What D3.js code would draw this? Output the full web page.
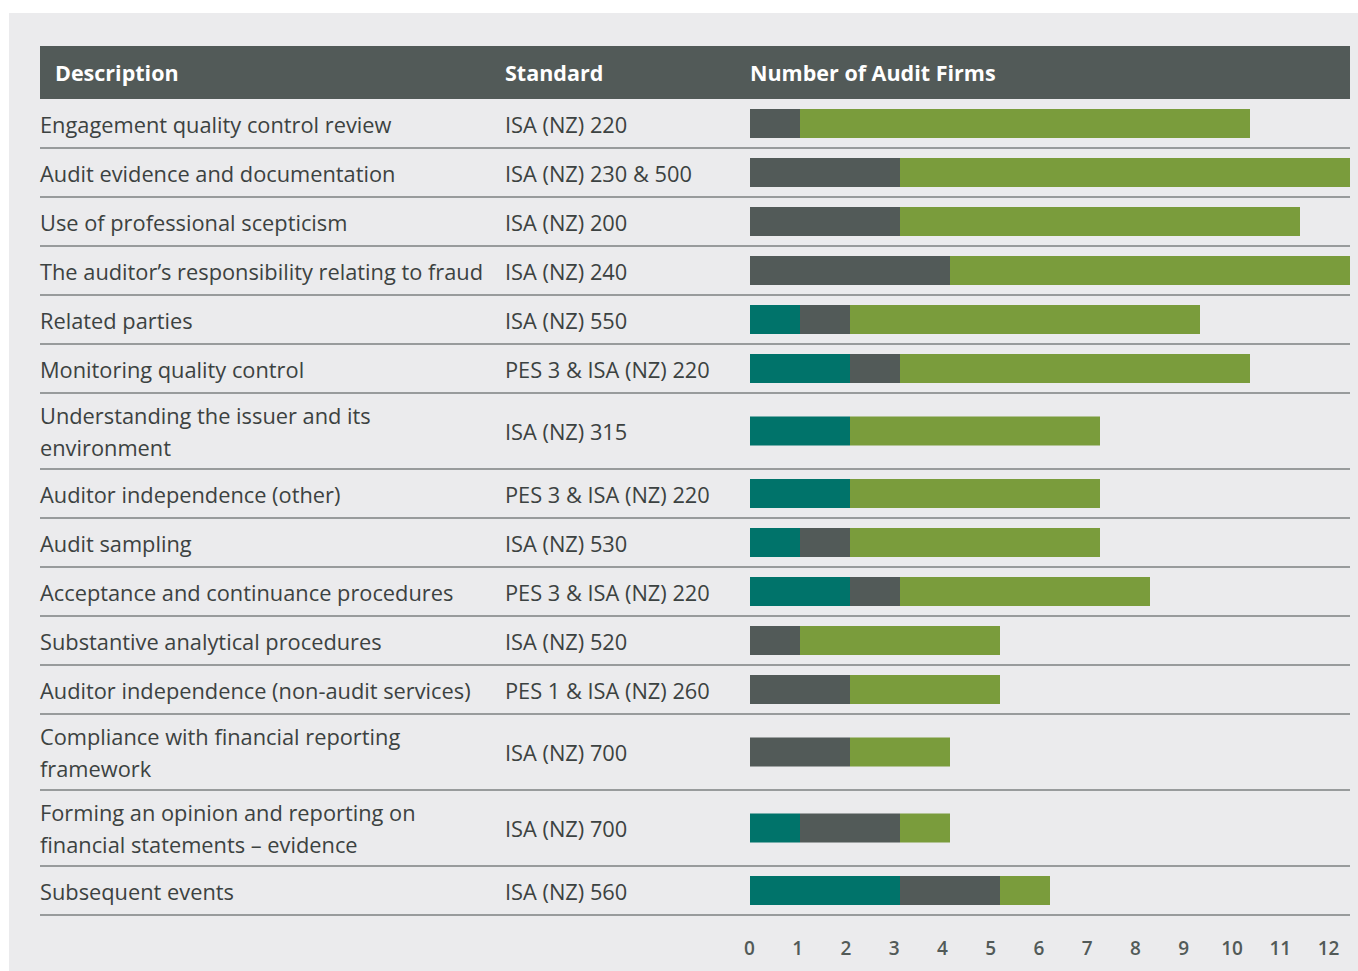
<!DOCTYPE html>
<html>
<head>
<meta charset="utf-8">
<script src="https://cdn.jsdelivr.net/npm/d3@7"></script>
<style>
  body { margin: 0; background: #ffffff; }
  svg { display: block; font-family: "Open Sans", "Noto Sans", sans-serif; }
</style>
</head>
<body>
<div class="chart"></div>
<script>
// rows (description may wrap onto two lines)
const descriptions = [
    ["Engagement quality control review"],
    ["Audit evidence and documentation"],
    ["Use of professional scepticism"],
    ["The auditor\u2019s responsibility relating to fraud"],
    ["Related parties"],
    ["Monitoring quality control"],
    ["Understanding the issuer and its", "environment"],
    ["Auditor independence (other)"],
    ["Audit sampling"],
    ["Acceptance and continuance procedures"],
    ["Substantive analytical procedures"],
    ["Auditor independence (non-audit services)"],
    ["Compliance with financial reporting", "framework"],
    ["Forming an opinion and reporting on", "financial statements \u2013 evidence"],
    ["Subsequent events"]
];
const standards = [
    "ISA (NZ) 220", "ISA (NZ) 230 & 500", "ISA (NZ) 200", "ISA (NZ) 240",
    "ISA (NZ) 550", "PES 3 & ISA (NZ) 220", "ISA (NZ) 315", "PES 3 & ISA (NZ) 220",
    "ISA (NZ) 530", "PES 3 & ISA (NZ) 220", "ISA (NZ) 520", "PES 1 & ISA (NZ) 260",
    "ISA (NZ) 700", "ISA (NZ) 700", "ISA (NZ) 560"
];
// number of audit firms per segment
const tealCounts  = [0, 0, 0, 0, 1, 2, 2, 2, 1, 2, 0, 0, 0, 1, 3];
const greyCounts  = [1, 3, 3, 4, 1, 1, 0, 0, 1, 1, 1, 2, 2, 2, 2];
const greenCounts = [9, 9, 8, 8, 7, 7, 5, 5, 5, 5, 4, 3, 2, 1, 1];
const tickValues = d3.range(0, 13);

const width = 1358, height = 971;
const left = 40, right = 1350, headerTop = 46, headerBottom = 99;
const rowH1 = 49, rowH2 = 76, barH = 29;

const colors = { teal: "#00736a", grey: "#525a58", green: "#7a9c3c" };

const rows = descriptions.map((d, i) => ({
    lines: d,
    standard: standards[i],
    teal: tealCounts[i],
    grey: greyCounts[i],
    green: greenCounts[i]
}));

// row positions from row heights
let acc = headerBottom;
rows.forEach(r => {
    r.h = r.lines.length > 1 ? rowH2 : rowH1;
    r.y0 = acc;
    acc += r.h;
    r.cy = r.y0 + r.h / 2;
});
const tableBottom = acc;

const x = d3.scaleLinear().domain([0, 12]).range([750, 1350]);
// tick labels in the source sit on a slightly tighter spacing
const xTicks = d3.scaleLinear().domain([0, 12]).range([749, 1328]);

const svg = d3.select(".chart").append("svg")
    .attr("width", width)
    .attr("height", height);

svg.append("rect")
    .attr("x", 9).attr("y", 13)
    .attr("width", width - 9).attr("height", height - 13)
    .attr("fill", "#ebebed");

// header
svg.append("rect")
    .attr("x", left).attr("y", headerTop)
    .attr("width", right - left).attr("height", headerBottom - headerTop)
    .attr("fill", "#525a58");

const headers = [["Description", 55], ["Standard", 505], ["Number of Audit Firms", 750]];
svg.append("g").selectAll("text")
    .data(headers)
    .join("text")
    .attr("x", d => d[1])
    .attr("y", (headerTop + headerBottom) / 2 + 1)
    .attr("dy", "0.35em")
    .attr("fill", "#ffffff")
    .style("font-weight", "bold")
    .style("font-size", "21.5px")
    .text(d => d[0]);

// separators
svg.append("g").selectAll("line")
    .data(rows)
    .join("line")
    .attr("x1", left).attr("x2", right)
    .attr("y1", d => d.y0 + d.h).attr("y2", d => d.y0 + d.h)
    .attr("stroke", "#7d8180")
    .attr("stroke-width", 1.5);

// description text
const desc = svg.append("g")
    .style("font-size", "21.8px")
    .attr("fill", "#3c4241");

desc.selectAll("text")
    .data(rows)
    .join("text")
    .attr("x", left)
    .attr("y", d => d.cy + 1.5 - (d.lines.length - 1) * 16)
    .each(function(d) {
        d3.select(this).selectAll("tspan")
            .data(d.lines)
            .join("tspan")
            .attr("x", left)
            .attr("dy", (t, i) => i === 0 ? "0.35em" : "32px")
            .text(t => t);
    });

desc.selectAll("text.std")
    .data(rows)
    .join("text")
    .attr("class", "std")
    .attr("x", 505)
    .attr("y", d => d.cy + 1.5)
    .attr("dy", "0.35em")
    .text(d => d.standard);

// stacked bars
const keys = ["teal", "grey", "green"];
const stacked = d3.stack().keys(keys)(rows);

svg.append("g").selectAll("g")
    .data(stacked)
    .join("g")
    .attr("fill", d => colors[d.key])
    .selectAll("rect")
    .data(d => d)
    .join("rect")
    .attr("x", d => x(d[0]))
    .attr("y", d => d.data.cy - barH / 2)
    .attr("width", d => x(d[1]) - x(d[0]))
    .attr("height", barH);

// axis labels
svg.append("g")
    .attr("transform", `translate(0, ${tableBottom + 33})`)
    .call(d3.axisBottom(xTicks).tickValues(tickValues).tickSize(0).tickFormat(d3.format("d")))
    .call(g => g.select(".domain").remove())
    .call(g => g.selectAll("text")
        .attr("y", 0)
        .attr("dy", "0.35em")
        .attr("fill", "#525a58")
        .style("font-family", "\"Open Sans\", sans-serif")
        .style("font-size", "19px")
        .style("font-weight", "600"));
</script>
</body>
</html>
